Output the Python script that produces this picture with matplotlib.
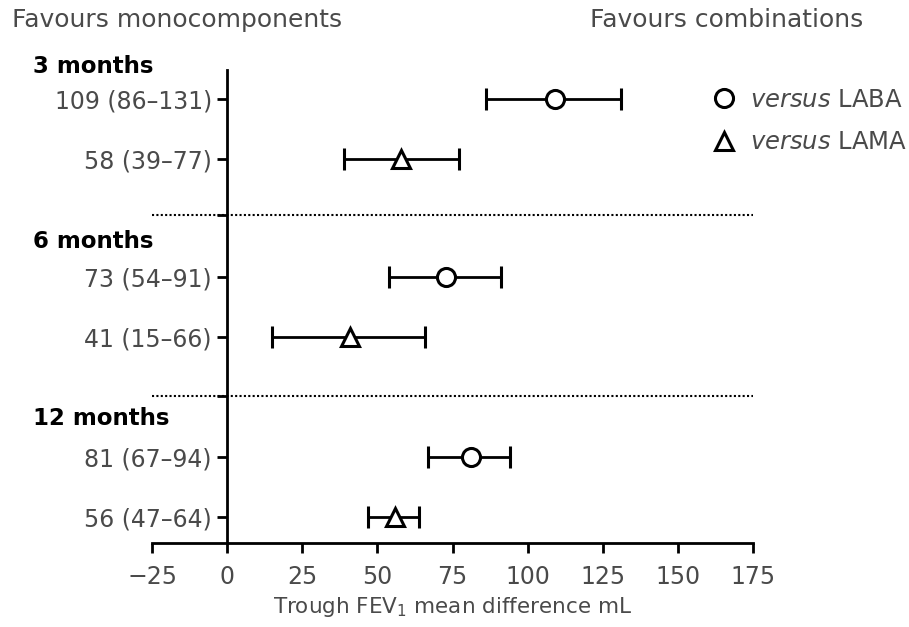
import matplotlib
matplotlib.use("Agg")
import matplotlib.pyplot as plt
from matplotlib.lines import Line2D
from matplotlib.transforms import blended_transform_factory

plt.rcParams["font.family"] = ["DejaVu Sans"]
plt.rcParams["mathtext.fontset"] = "dejavusans"

# data
groups = ["3 months", "6 months", "12 months"]
laba_mean = [109, 73, 81]
laba_lo = [86, 54, 67]
laba_hi = [131, 91, 94]
lama_mean = [58, 41, 56]
lama_lo = [39, 15, 47]
lama_hi = [77, 66, 64]
x_ticks = [-25, 0, 25, 50, 75, 100, 125, 150, 175]

# row layout (one unit per row, inverted axis)
laba_y = [0, 2.97, 5.97]
lama_y = [1, 3.97, 6.97]
divider_y = [1.93, 4.95]
header_y = [-0.53, 2.37, 5.32]

grey = "#4a4a4a"

fig = plt.figure(figsize=(9.09, 6.27), dpi=100)
ax = fig.add_axes([152 / 909, 1 - 543 / 627, (753 - 152) / 909, (543 - 70) / 627])

def err(m, lo, hi):
    return [[a - b for a, b in zip(m, lo)], [c - a for a, c in zip(m, hi)]]

ax.errorbar(laba_mean, laba_y, xerr=err(laba_mean, laba_lo, laba_hi), fmt="o",
            color="black", mfc="white", mec="black", ms=13, mew=2.2,
            elinewidth=2, capsize=8, capthick=2, zorder=3)
ax.errorbar(lama_mean, lama_y, xerr=err(lama_mean, lama_lo, lama_hi), fmt="^",
            color="black", mfc="white", mec="black", ms=13, mew=2.2,
            elinewidth=2, capsize=8, capthick=2, zorder=3)

for y in divider_y:
    ax.axhline(y, color="black", ls=(0, (1, 1.1)), lw=1.5, zorder=1)

ax.set_xlim(-25, 175)
ax.set_ylim(7.4, -0.48)
ax.spines["left"].set_position(("data", 0))
ax.spines["top"].set_visible(False)
ax.spines["right"].set_visible(False)
for s in ("left", "bottom"):
    ax.spines[s].set_linewidth(2)

ax.set_xticks(x_ticks)
ax.set_xticklabels(["\u221225" if t < 0 else str(t) for t in x_ticks])

row_y, row_lab = [], []
for i in range(3):
    row_y += [laba_y[i], lama_y[i]]
    row_lab += [f"{laba_mean[i]} ({laba_lo[i]}\u2013{laba_hi[i]})",
                f"{lama_mean[i]} ({lama_lo[i]}\u2013{lama_hi[i]})"]
ax.set_yticks(row_y)
ax.set_yticklabels(row_lab)
ax.set_yticks(divider_y, minor=True)
ax.tick_params(axis="both", which="both", length=7, width=2, labelsize=17,
               labelcolor=grey, color="black")
ax.tick_params(axis="x", pad=9)
ax.tick_params(axis="y", pad=4)

ax.set_xlabel("Trough FEV$_1$ mean difference mL", fontsize=15.5, color=grey, labelpad=4)

head_tr = blended_transform_factory(fig.transFigure, ax.transData)
for g, y in zip(groups, header_y):
    ax.text(33 / 909, y, g, transform=head_tr, fontsize=16.5, fontweight="bold",
            color="black", va="center", ha="left")

fig.text(12 / 909, 1 - 20 / 627, "Favours monocomponents", fontsize=18, color=grey,
         va="center", ha="left")
fig.text(863 / 909, 1 - 20 / 627, "Favours combinations", fontsize=18, color=grey,
         va="center", ha="right")

handles = [Line2D([], [], marker="o", ls="none", mfc="white", mec="black", ms=13, mew=2.2),
           Line2D([], [], marker="^", ls="none", mfc="white", mec="black", ms=13, mew=2.2)]
leg = fig.legend(handles, [r"$\it{versus}$ LABA", r"$\it{versus}$ LAMA"],
                 loc="upper right", bbox_to_anchor=(907 / 909, 1 - 88 / 627),
                 frameon=False, fontsize=17.5, handletextpad=0.55, labelspacing=0.75,
                 borderaxespad=0, borderpad=0, handlelength=1.0)
for t in leg.get_texts():
    t.set_color(grey)

fig.savefig("out.png", dpi=100)
